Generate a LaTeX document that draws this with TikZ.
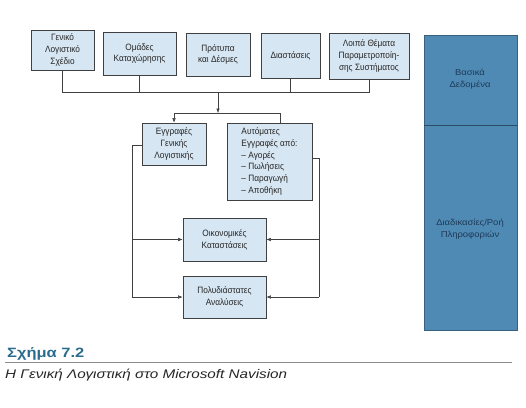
\documentclass[tikz,border=0pt]{standalone}
\usepackage{fontspec}
\setmainfont{Liberation Sans}
\newfontfamily\boxfont[FakeStretch=0.9]{Liberation Sans}
\newfontfamily\capfont[FakeStretch=1.22]{Liberation Sans}
\newfontfamily\colfont[FakeStretch=1.1]{Liberation Sans}
\usetikzlibrary{arrows.meta}
\definecolor{boxfill}{HTML}{D6E6F2}
\definecolor{colfill}{HTML}{4F8AB5}
\definecolor{coltext}{HTML}{1E3A56}
\definecolor{captcol}{HTML}{2B6C8E}
\begin{document}
\begin{tikzpicture}[x=1pt,y=-1pt,
  box/.style={draw=black!75, line width=0.6pt, fill=boxfill, inner sep=1pt, align=center,
     font=\boxfont\fontsize{9.2}{11.8}\selectfont, text=black!85},
  conn/.style={draw=black!75, line width=0.5pt},
  arr/.style={conn, -{Latex[length=4.5pt,width=3.5pt]}}]
\useasboundingbox (0,0) rectangle (526,407);
% right column
\node[draw=colfill!70!black, fill=colfill, minimum width=93pt, minimum height=295pt, inner sep=0pt] (col) at (470.5,182.5) {};
\draw[draw=colfill!55!black, line width=0.6pt] (424,125) coordinate (d1) -- (517,125) coordinate (d2);
\node[align=center, text=coltext, font=\colfont\fontsize{8.6}{12}\selectfont] (t1) at (470,79) {Βασικά\\Δεδομένα};
\node[align=center, text=coltext, font=\colfont\fontsize{8.6}{12}\selectfont] (t2) at (470,229) {Διαδικασίες/Ροή\\Πληροφοριών};
% top boxes
\node[box, minimum width=63pt, minimum height=40pt] (b1) at (62.5,50) {Γενικό\\Λογιστικό\\Σχέδιο};
\node[box, minimum width=73pt, minimum height=43pt] (b2) at (139.5,53.5) {Ομάδες\\Καταχώρησης};
\node[box, minimum width=64pt, minimum height=43pt] (b3) at (218,54.5) {Πρότυπα\\και Δέσμες};
\node[box, minimum width=59pt, minimum height=45pt] (b4) at (290.5,55.5) {Διαστάσεις};
\node[box, minimum width=80pt, minimum height=46pt] (b5) at (369,56) {Λοιπά Θέματα\\Παραμετροποίη-\\σης Συστήματος};
% bus
\coordinate (bus1) at (b1.south |- 0,92);
\coordinate (bus5) at (b5.south |- 0,92);
\coordinate (busm) at (218,92);
\draw[conn] (b1.south) -- (bus1) -- (bus5) -- (b5.south);
\draw[conn] (b2.south) -- (b2.south |- bus1);
\draw[conn] (b4.south) -- (b4.south |- bus1);
% middle boxes
\node[box, minimum width=64pt, minimum height=42pt] (e1) at (174,144) {Εγγραφές\\Γενικής\\Λογιστικής};
\node[box, minimum width=85pt, minimum height=77pt, align=left] (e2) at (269.5,161.5) {Αυτόματες\\Εγγραφές από:\\– Αγορές\\– Πωλήσεις\\– Παραγωγή\\– Αποθήκη};
\coordinate (jm) at (218,113);
\coordinate (jl) at (e1.north |- jm);
\coordinate (jr) at (280,113);
\draw[arr] (busm) -- (jm);
\draw[conn] (jl) -- (jr) -- (jr |- e2.north);
\draw[arr] (jl) -- (e1.north);
% bottom boxes
\node[box, minimum width=83pt, minimum height=43pt] (o1) at (224.5,239.5) {Οικονομικές\\Καταστάσεις};
\node[box, minimum width=83pt, minimum height=42pt] (o2) at (224.5,297) {Πολυδιάστατες\\Αναλύσεις};
\coordinate (lt) at (132,145);
\coordinate (lm) at (132,239.5);
\coordinate (lb) at (132,297);
\coordinate (rt) at (319,158);
\coordinate (rm) at (319,239.5);
\coordinate (rb) at (319,297);
\draw[conn] (e1.west |- lt) -- (lt) -- (lb);
\draw[arr] (lm) -- (o1.west);
\draw[arr] (lb) -- (o2.west);
\draw[conn] (e2.east |- rt) -- (rt) -- (rb);
\draw[arr] (rm) -- (o1.east);
\draw[arr] (rb) -- (o2.east);
% caption
\node[anchor=base west, inner sep=0pt, text=captcol, font=\capfont\fontsize{13.5}{15}\selectfont\bfseries] (cap1) at (7,357) {Σχήμα 7.2};
\draw[black!45, line width=0.6pt] (5,362) coordinate (c1) -- (512,362) coordinate (c2);
\node[anchor=base west, inner sep=0pt, text=black!85, font=\capfont\fontsize{12.5}{14}\selectfont\itshape] (cap2) at (5,378) {Η Γενική Λογιστική στο Microsoft Navision};
\end{tikzpicture}
\end{document}
